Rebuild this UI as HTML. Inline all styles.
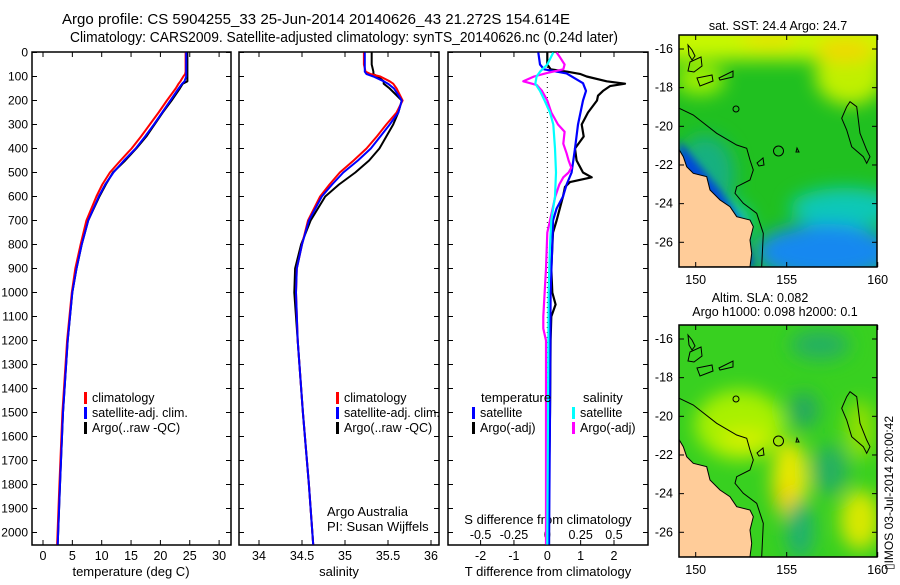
<!DOCTYPE html>
<html><head><meta charset="utf-8">
<style>
body{margin:0;background:#fff;}
svg text{font-family:"Liberation Sans",Arial,sans-serif;fill:#000;}
</style></head>
<body>
<svg id="fig" width="900" height="580" viewBox="0 0 900 580" xmlns="http://www.w3.org/2000/svg">
<defs>
<filter id="bl" x="-30%" y="-30%" width="160%" height="160%"><feGaussianBlur stdDeviation="9"/></filter>
<filter id="bl2" x="-30%" y="-30%" width="160%" height="160%"><feGaussianBlur stdDeviation="4"/></filter>
<clipPath id="m1c"><rect x="679" y="35" width="198" height="232"/></clipPath>
<clipPath id="m2c"><rect x="679" y="325" width="198" height="232"/></clipPath>
<clipPath id="p1c"><rect x="32" y="52" width="200" height="493"/></clipPath>
<clipPath id="p2c"><rect x="239" y="52" width="200" height="493"/></clipPath>
<clipPath id="p3c"><rect x="448" y="52" width="200" height="493"/></clipPath>
</defs>
<text x="62" y="24" font-size="14.5" textLength="508" lengthAdjust="spacingAndGlyphs">Argo profile: CS 5904255_33 25-Jun-2014 20140626_43 21.272S 154.614E</text>
<text x="70" y="42" font-size="14.5" textLength="548" lengthAdjust="spacingAndGlyphs">Climatology: CARS2009. Satellite-adjusted climatology: synTS_20140626.nc (0.24d later)</text>
<g id="axes"></g>
<g id="maps"></g>
<text transform="translate(893,570) rotate(-90)" font-size="12">▯IMOS 03-Jul-2014 20:00:42</text>
</svg>
<script>
// ---- depth grid (m) ----
const depthGrid=[0,50,80,90,100,120,130,150,200,250,300,350,400,450,500,550,600,700,800,900,1000,1200,1500,1800,2050];
const tempClim=[24.3,24.3,24.3,24.2,23.9,23.4,23.1,22.6,21.1,19.7,18.2,16.7,15.1,13.2,11.4,10.1,9.1,7.4,6.4,5.5,4.9,4.1,3.3,2.8,2.4];
const tempSat=[24.4,24.4,24.4,24.4,24.4,24.1,23.7,23.1,21.7,20.3,18.9,17.4,15.8,13.8,12.0,10.6,9.5,7.7,6.6,5.7,5.0,4.2,3.4,2.9,2.5];
const tempArgo=[24.6,24.6,24.6,24.6,24.6,24.6,23.8,23.3,21.9,20.4,19.0,17.6,15.9,14.0,11.9,10.7,9.6,7.7,6.6,5.7,5.0,4.2,3.4,2.9,2.5];
const salClim=[35.22,35.22,35.24,35.3,35.41,35.52,35.56,35.6,35.67,35.6,35.48,35.37,35.25,35.1,34.94,34.82,34.71,34.57,34.5,34.44,34.43,34.45,34.51,34.58,34.63];
const salSat=[35.23,35.23,35.23,35.25,35.33,35.45,35.5,35.57,35.66,35.62,35.52,35.41,35.3,35.15,34.98,34.85,34.73,34.58,34.5,34.44,34.43,34.45,34.51,34.58,34.63];
const salArgo=[35.31,35.31,35.33,35.33,35.38,35.45,35.45,35.52,35.66,35.62,35.56,35.48,35.4,35.28,35.12,34.93,34.77,34.6,34.49,34.42,34.41,34.45,34.51,34.58,34.63];
// ---- differences ----
const dTDepth=[0,50,70,80,90,100,120,130,140,160,180,200,250,300,350,400,450,500,520,540,560,600,700,750,900,1000,1050,1100,1200,1500,1800,2050];
const dTArgo=[0,0,0.1,0.6,1.0,1.18,1.78,2.33,1.88,1.67,1.52,1.49,1.22,1.03,1.09,0.83,0.88,1.07,1.33,0.68,0.53,0.47,0.28,0.17,0.12,0.15,0.25,0.12,0.1,0.08,0.05,0.05];
const dTSatDepth=[0,50,70,87,128,160,200,300,400,500,550,600,650,700,800,1000,1500,2050];
const dTSat=[-0.27,-0.22,-0.1,0.58,1.07,1.16,1.07,0.92,0.83,0.73,0.58,0.47,0.28,0.17,0.15,0.1,0.08,0.05];
const dSDepth=[0,20,50,70,85,100,120,135,160,200,250,300,330,380,420,450,480,500,520,550,600,700,750,900,1100,1150,1200,1500,2050];
const dSArgo=[0.07,0.095,0.13,0.12,0,-0.1,-0.18,-0.08,-0.04,0,0.03,0.08,0.13,0.12,0.145,0.16,0.18,0.16,0.12,0.09,0.06,0.02,0,-0.01,-0.03,-0.03,-0.01,-0.01,-0.01];
const dSSatDepth=[0,50,80,100,130,160,200,250,300,400,500,600,700,800,1000,1500,2050];
const dSSat=[0.045,0,-0.055,-0.08,-0.09,-0.055,-0.02,0.02,0.045,0.058,0.065,0.058,0.03,0.02,0.01,0.005,0];
const depthTicks=[0,100,200,300,400,500,600,700,800,900,1000,1100,1200,1300,1400,1500,1600,1700,1800,1900,2000];
const tTicks=[0,5,10,15,20,25,30];
const sTicks=[34,34.5,35,35.5,36];
const dTTicks=[-2,-1,0,1,2];
const dSTicks=[-0.5,-0.25,0,0.25,0.5];
const dSTickLabels=['-0.5','-0.25','0','0.25','0.5'];

const NS="http://www.w3.org/2000/svg";
const g=document.getElementById('axes');
function el(tag,attrs,parent){const e=document.createElementNS(NS,tag);for(const k in attrs)e.setAttribute(k,attrs[k]);(parent||g).appendChild(e);return e;}
const yD=d=>52.5+d*0.24;
const xT=v=>43+v*5.87;
const xS=v=>259+(v-34)*86;
const xDT=v=>547.3+v*33.35;
const xDS=v=>547.3+v*133.4;
const panels=[[32,231],[239,439],[448,648]];
const TOP=52,BOT=545;

panels.forEach((p,i)=>{
  const r=el('rect',{x:p[0],y:TOP,width:p[1]-p[0],height:BOT-TOP,fill:'none',stroke:'#000','stroke-width':1.5});
  
  
  depthTicks.forEach(d=>{
    el('line',{x1:p[0],x2:p[0]+5,y1:yD(d),y2:yD(d),stroke:'#000'});
    el('line',{x1:p[1]-5,x2:p[1],y1:yD(d),y2:yD(d),stroke:'#000'});
  });
});
depthTicks.forEach(d=>{
  const t=el('text',{x:28,y:yD(d)+4,'font-size':12,'text-anchor':'end'});
  t.textContent=d;
  
  
});
function xticks(vals,labels,fx,ly,top){
  vals.forEach((v,i)=>{
    el('line',{x1:fx(v),x2:fx(v),y1:BOT,y2:BOT-5,stroke:'#000'});
    if(top)el('line',{x1:fx(v),x2:fx(v),y1:TOP,y2:TOP+5,stroke:'#000'});
    const t=el('text',{x:fx(v),y:ly,'font-size':12.5,'text-anchor':'middle'});
    t.textContent=labels[i];
    
    
  });
}
xticks(tTicks,tTicks,xT,560,true);
xticks(sTicks,sTicks,xS,560,true);
xticks(dTTicks,dTTicks,xDT,560,true);
dSTickLabels.forEach((l,i)=>{
  const t=el('text',{x:xDS(dSTicks[i]),y:539,'font-size':12.5,'text-anchor':'middle'});
  t.textContent=l;
  
  
});
function label(x,y,txt,name,anchor){const t=el('text',{x:x,y:y,'font-size':13,'text-anchor':anchor||'middle'});t.textContent=txt;return t;}
label(131,576,'temperature (deg C)','x-axis-title-temperature');
label(339,576,'salinity','x-axis-title-salinity');
label(548,576,'T difference from climatology','x-axis-title-t-diff');
label(548,524,'S difference from climatology','x-axis-title-s-diff');
label(327,516,'Argo Australia','credit-argo-australia','start');
label(327,531,'PI: Susan Wijffels','credit-pi','start');

function line(xs,ds,fx,color,w,clip,name){
  const pts=xs.map((v,i)=>fx(v).toFixed(1)+','+yD(ds[i]).toFixed(1)).join(' ');
  const pl=el('polyline',{points:pts,fill:'none',stroke:color,'stroke-width':w,'clip-path':'url(#'+clip+')','stroke-linejoin':'round'});
  
  
}
line(tempArgo,depthGrid,xT,'#000',2,'p1c','temp-argo-line');
line(tempClim,depthGrid,xT,'#f00',2,'p1c','temp-climatology-line');
line(tempSat,depthGrid,xT,'#00f',2,'p1c','temp-satellite-line');
line(salArgo,depthGrid,xS,'#000',2,'p2c','sal-argo-line');
line(salClim,depthGrid,xS,'#f00',2,'p2c','sal-climatology-line');
line(salSat,depthGrid,xS,'#00f',2,'p2c','sal-satellite-line');
el('line',{x1:xDT(0),x2:xDT(0),y1:TOP,y2:BOT,stroke:'#000','stroke-dasharray':'1,4'});
line(dTArgo,dTDepth,xDT,'#000',2.2,'p3c','t-diff-argo-line');
line(dTSat,dTSatDepth,xDT,'#00f',2.2,'p3c','t-diff-satellite-line');
line(dSArgo,dSDepth,xDS,'#f0f',2.2,'p3c','s-diff-argo-line');
line(dSSat,dSSatDepth,xDS,'#0ff',2.2,'p3c','s-diff-satellite-line');

function legend(x,y,color,txt,name){
  el('rect',{x:x,y:y-10,width:3,height:12,fill:color});
  const t=el('text',{x:x+8,y:y,'font-size':12.5});t.textContent=txt;
  
  
}
legend(84,402,'#f00','climatology','legend-climatology-1');
legend(84,417,'#00f','satellite-adj. clim.','legend-satellite-1');
legend(84,432,'#000','Argo(..raw -QC)','legend-argo-1');
legend(336,402,'#f00','climatology','legend-climatology-2');
legend(336,417,'#00f','satellite-adj. clim.','legend-satellite-2');
legend(336,432,'#000','Argo(..raw -QC)','legend-argo-2');
label(481,402,'temperature','legend-title-temperature','start');
label(583,402,'salinity','legend-title-salinity','start');
legend(472,417,'#00f','satellite','legend-t-satellite');
legend(472,432,'#000','Argo(-adj)','legend-t-argo');
legend(572,417,'#0ff','satellite','legend-s-satellite');
legend(572,432,'#f0f','Argo(-adj)','legend-s-argo');

// ---- maps ----
const mg=document.getElementById('maps');
const lonTicks=[150,155,160];
const latTicks=[-16,-18,-20,-22,-24,-26];
const mx=lon=>695.7+(lon-150)*18.2;
function m(tag,a,p){return el(tag,a,p||mg);}
function coastPath(dy){
  const pts=[[88,450],[100,470],[110,500],[130,520],[170,530],[180,570],[210,600],[240,620],[260,650],[300,660],[310,680],[300,720],[305,760],[300,800]];
  return 'M679,'+(267+dy)+' L'+pts.map(p=>(650+p[0]/3).toFixed(1)+','+(p[1]/3+dy).toFixed(1)).join(' L')+' Z';
}
function contour(dy){
  const pts=[[88,325],[130,345],[200,400],[260,435],[290,445],[300,480],[310,510],[300,540],[260,560],[255,580],[280,610],[320,640],[340,700],[335,800]];
  return 'M'+pts.map(p=>(650+p[0]/3).toFixed(1)+','+(p[1]/3+dy).toFixed(1)).join(' L');
}
function reef(dy){
  const pts=[[600,305],[620,320],[630,400],[650,450],[660,470],[650,490],[640,470],[605,440],[590,390],[575,355],[590,320]];
  return 'M'+pts.map(p=>(650+p[0]/3).toFixed(1)+','+(p[1]/3+dy).toFixed(1)).join(' L')+'Z';
}
function islands(gp,dy){
  const paths=['M688,45 L692,50 L695,56 L692,60 L689,55 Z','M690,62 L701,57 L702,66 L694,72 L688,71 Z','M697,78 L712,75 L713,81 L700,86 Z','M719,78 L733,71 L733,77 L720,80 Z'];
  paths.forEach(d=>{m('path',{d:d,fill:'none',stroke:'#000','stroke-width':1,transform:'translate(0,'+dy+')'},gp);});
  m('circle',{cx:736,cy:109+dy,r:3,fill:'none',stroke:'#000'},gp);
  m('circle',{cx:778.5,cy:151+dy,r:5,fill:'none',stroke:'#000'},gp);
  m('path',{d:'M757,163 L763,158 L764,165 L759,166 Z',fill:'none',stroke:'#000',transform:'translate(0,'+dy+')'},gp);
  m('path',{d:'M797,148 L799,152 L796,152 Z',fill:'none',stroke:'#000',transform:'translate(0,'+dy+')'},gp);
}
function mapFrame(top,name){
  const r=m('rect',{x:679,y:top,width:198,height:232,fill:'none',stroke:'#000','stroke-width':1.5});
  
  
  lonTicks.forEach(l=>{
    m('line',{x1:mx(l),x2:mx(l),y1:top+232,y2:top+227,stroke:'#000'});
    m('line',{x1:mx(l),x2:mx(l),y1:top,y2:top+5,stroke:'#000'});
    const t=m('text',{x:mx(l),y:top+249,'font-size':12.5,'text-anchor':'middle'});t.textContent=l;
    
    
  });
  latTicks.forEach(l=>{
    const y=top+14+(-16-l)*19.33;
    m('line',{x1:679,x2:684,y1:y,y2:y,stroke:'#000'});
    m('line',{x1:872,x2:877,y1:y,y2:y,stroke:'#000'});
    const t=m('text',{x:673,y:y+4,'font-size':12.5,'text-anchor':'end'});t.textContent=l;
    
    
  });
}
// map 1 SST
const g1=m('g',{'clip-path':'url(#m1c)'});
m('rect',{x:679,y:35,width:198,height:232,fill:'#20c020'},g1);
const b1=m('g',{filter:'url(#bl)'},g1);
m('rect',{x:660,y:20,width:240,height:40,fill:'#c8f800'},b1);
m('ellipse',{cx:850,cy:75,rx:35,ry:30,fill:'#c0f000'},b1);
m('ellipse',{cx:845,cy:50,rx:30,ry:12,fill:'#f0d800'},b1);
m('ellipse',{cx:770,cy:40,rx:30,ry:8,fill:'#e8e000'},b1);
m('ellipse',{cx:700,cy:80,rx:25,ry:15,fill:'#a0f000'},b1);
m('ellipse',{cx:705,cy:175,rx:30,ry:40,fill:'#18b080'},b1);
m('ellipse',{cx:845,cy:208,rx:55,ry:20,fill:'#10c8b8'},b1);
m('ellipse',{cx:825,cy:252,rx:70,ry:28,fill:'#1888f0'},b1);
m('ellipse',{cx:730,cy:222,rx:20,ry:18,fill:'#10c8d8'},b1);
m('path',{d:'M679,140 L695,160 L720,190 L740,220 L755,267 L745,267 L679,175Z',fill:'#0048d8',filter:'url(#bl2)'},g1);
m('path',{d:coastPath(0),fill:'#ffcc99',stroke:'#000','stroke-width':1},g1);
m('path',{d:contour(0),fill:'none',stroke:'#000','stroke-width':1},g1);
m('path',{d:reef(0),fill:'none',stroke:'#000','stroke-width':1},g1);
islands(g1,0);
mapFrame(35,'sst-map-frame');
const t1=m('text',{x:778,y:30,'font-size':12.5,'text-anchor':'middle'});t1.textContent='sat. SST: 24.4 Argo: 24.7';

// map 2 SLA
const g2=m('g',{'clip-path':'url(#m2c)'});
m('rect',{x:679,y:325,width:198,height:232,fill:'#38d020'},g2);
const b2=m('g',{filter:'url(#bl)'},g2);
m('ellipse',{cx:740,cy:425,rx:45,ry:35,fill:'#a8f000'},b2);
m('ellipse',{cx:745,cy:440,rx:25,ry:12,fill:'#d0f000'},b2);
m('ellipse',{cx:790,cy:480,rx:18,ry:40,fill:'#e8e800'},b2);
m('ellipse',{cx:785,cy:498,rx:10,ry:15,fill:'#f0d000'},b2);
m('ellipse',{cx:860,cy:520,rx:20,ry:30,fill:'#d8e800'},b2);
m('ellipse',{cx:800,cy:530,rx:14,ry:30,fill:'#20b070'},b2);
m('ellipse',{cx:830,cy:470,rx:18,ry:25,fill:'#28b060'},b2);
m('ellipse',{cx:804,cy:410,rx:15,ry:18,fill:'#28a860'},b2);
m('ellipse',{cx:820,cy:345,rx:30,ry:15,fill:'#28b060'},b2);
m('ellipse',{cx:860,cy:430,rx:15,ry:30,fill:'#90e000'},b2);
m('path',{d:coastPath(290),fill:'#ffcc99',stroke:'#000','stroke-width':1},g2);
m('path',{d:contour(290),fill:'none',stroke:'#000','stroke-width':1},g2);
m('path',{d:reef(290),fill:'none',stroke:'#000','stroke-width':1},g2);
islands(g2,290);
mapFrame(325,'sla-map-frame');
const t2=m('text',{x:760,y:302,'font-size':12.5,'text-anchor':'middle'});t2.textContent='Altim. SLA: 0.082';

const t3=m('text',{x:775,y:316,'font-size':12.5,'text-anchor':'middle'});t3.textContent='Argo h1000: 0.098 h2000: 0.1';

</script>
</body></html>
